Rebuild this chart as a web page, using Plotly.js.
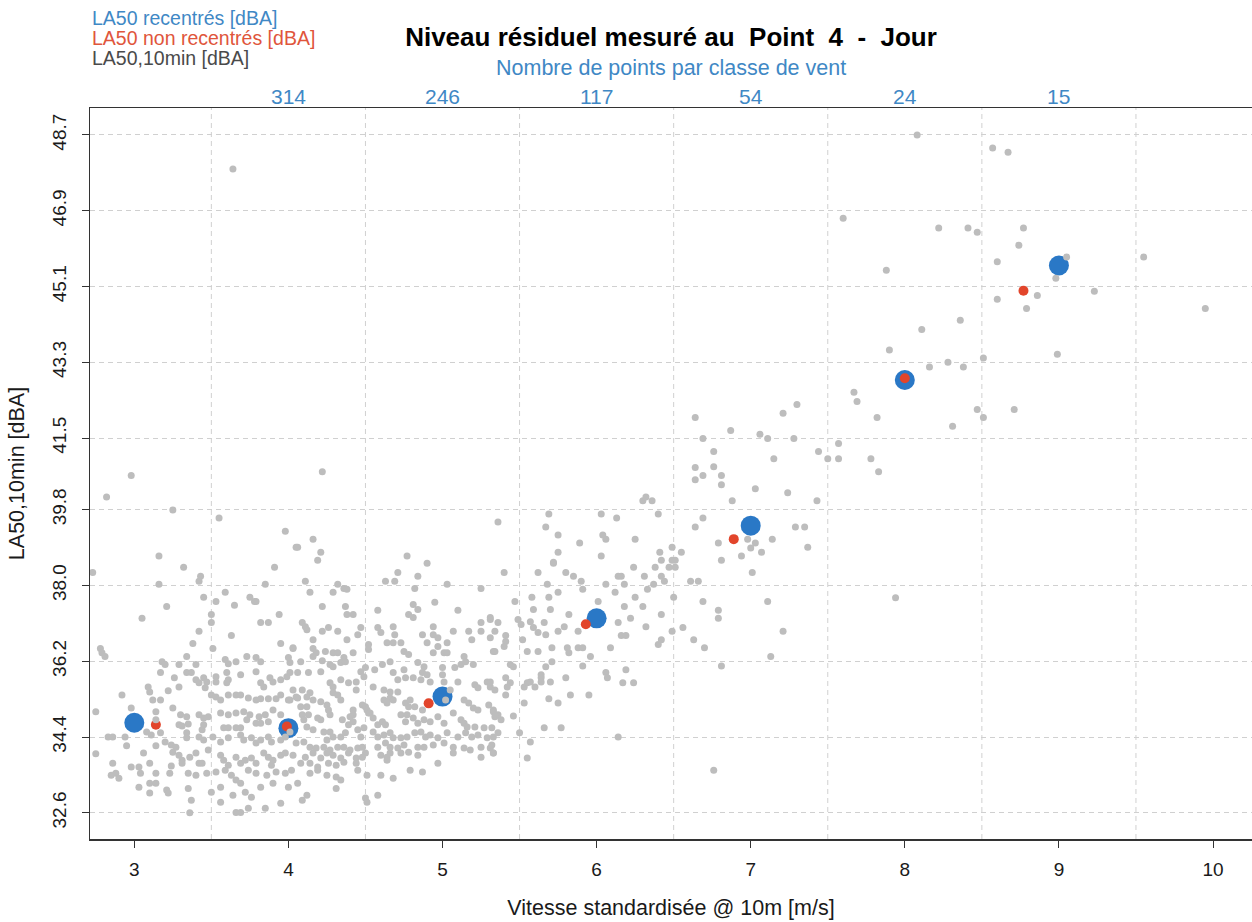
<!DOCTYPE html>
<html>
<head>
<meta charset="utf-8">
<script src="https://cdn.plot.ly/plotly-3.0.1.min.js"></script>
<style>
  html, body { margin: 0; padding: 0; background: #ffffff; }
  #chart { width: 1252px; height: 922px; }
</style>
</head>
<body>
<div id="chart"></div>
<script>
// Wind classes (m/s) and the class levels
const windClasses = [3, 4, 5, 6, 7, 8, 9];
const la50Recentred = [34.74, 34.61, 35.36, 37.22, 39.42, 42.88, 45.60];

// Non re-centred class levels: mean wind speed of the class and level
const windNonRecentred = [3.14, 3.99, 4.91, 5.93, 6.89, 8.00, 8.77];
const la50NonRecentred = [34.69, 34.65, 35.20, 37.08, 39.10, 42.92, 45.00];

// Number of 10-min samples per wind class (top labels)
const countPositions = [4, 5, 6, 7, 8, 9];
const countLabels = ['314', '246', '117', '54', '24', '15'];

// Axis ticks
const xTickValues = [3, 4, 5, 6, 7, 8, 9, 10];
const yTickValues = [32.6, 34.4, 36.2, 38.0, 39.8, 41.5, 43.3, 45.1, 46.9, 48.7];
const classBoundaries = [3.5, 4.5, 5.5, 6.5, 7.5, 8.5, 9.5];

// 10-min samples: standardised wind speed @10m (m/s)
const windSpeed10min = [
  3.21,3.05,3.50,3.50,3.65,3.78,3.82,3.87,3.94,3.42,
  3.63,3.38,3.51,3.95,4.03,2.78,2.79,2.81,3.18,3.20,
  3.29,3.34,3.40,3.59,3.61,3.66,3.73,3.79,3.82,4.00,
  3.17,3.26,3.34,3.37,3.40,3.42,3.45,3.47,3.53,3.53,
  3.60,3.61,3.60,3.69,3.79,3.82,3.84,3.88,3.90,3.95,
  3.99,4.01,3.09,3.10,3.22,3.29,3.46,2.92,3.12,3.17,
  3.50,3.53,3.56,3.61,3.66,3.69,3.74,3.79,3.82,3.87,
  3.92,3.95,4.00,4.05,2.75,2.98,3.14,3.25,3.30,3.34,
  3.42,3.45,3.48,3.56,3.61,3.66,3.71,3.75,3.81,3.85,
  3.90,3.95,3.14,3.29,3.31,3.35,3.45,3.44,3.58,3.61,
  3.66,3.69,3.73,3.79,3.82,3.87,2.83,2.86,2.94,3.08,
  3.11,3.17,3.20,3.24,3.27,3.34,3.34,3.42,3.45,3.51,
  3.56,3.61,3.69,3.71,3.76,3.79,3.82,3.87,3.89,3.95,
  3.98,2.95,3.14,2.75,3.06,3.25,3.29,3.31,3.36,3.40,
  3.48,3.56,3.58,3.61,3.66,3.69,3.72,3.76,3.79,3.84,
  3.87,3.90,3.89,3.95,3.98,2.86,2.98,3.03,3.10,3.24,
  3.31,3.42,3.44,2.88,2.85,2.90,3.04,3.14,3.23,3.35,
  3.40,3.47,3.53,3.59,3.63,3.66,3.69,3.74,3.79,3.86,
  3.92,3.98,4.02,3.03,3.10,3.14,3.10,3.21,3.22,3.35,
  3.50,3.56,3.64,3.72,3.76,3.82,3.90,4.00,3.37,3.36,
  3.56,3.66,3.69,3.74,3.85,3.95,
  4.22,4.37,4.38,4.42,4.58,4.81,4.84,4.78,4.81,4.95,
  5.10,4.09,4.12,4.11,4.22,4.26,4.32,4.47,4.45,4.58,
  4.60,4.68,4.69,4.87,4.94,4.94,4.97,5.07,5.17,5.25,
  5.25,5.31,5.34,4.16,4.38,4.03,4.16,4.24,4.29,4.32,
  4.52,4.52,4.64,4.68,4.73,4.90,4.97,5.03,5.19,4.18,
  4.16,4.36,4.42,4.75,4.78,4.94,5.01,5.03,5.14,5.33,
  4.01,4.08,4.22,4.27,4.29,4.34,4.37,4.50,4.56,4.61,
  4.66,4.75,4.84,4.88,4.87,5.00,5.08,5.12,5.15,5.20,
  4.06,4.13,4.21,4.27,4.29,4.34,4.39,4.44,4.47,4.49,
  4.68,4.71,4.76,4.81,4.86,4.90,4.92,5.00,5.01,5.05,
  5.10,5.21,5.23,5.29,5.31,5.34,4.03,4.09,4.14,4.29,
  4.32,4.44,4.55,4.62,4.66,4.71,4.01,4.06,4.12,4.16,
  4.21,4.25,4.26,4.27,4.34,4.42,4.42,4.48,4.50,4.51,
  4.52,4.62,4.64,4.66,4.68,4.76,4.78,4.79,4.82,4.87,
  5.02,5.14,5.17,5.20,5.23,5.30,5.33,5.36,4.08,4.12,
  4.13,4.09,4.10,4.19,4.21,4.35,4.40,4.39,4.42,4.53,
  4.55,4.58,4.61,4.63,4.73,4.77,4.76,4.81,4.84,4.88,
  4.92,4.97,5.01,5.07,5.12,5.14,5.16,5.21,5.27,5.32,
  4.01,4.12,4.16,4.23,4.27,4.29,4.25,4.34,4.37,4.45,
  4.49,4.47,4.55,4.58,4.62,4.66,4.68,4.73,4.77,4.82,
  4.86,4.89,4.92,4.97,5.03,5.10,5.15,5.19,5.23,5.29,
  5.33,4.05,4.10,4.14,4.18,4.23,4.27,4.32,4.36,4.40,
  4.45,4.48,4.50,4.58,4.63,4.66,4.71,4.75,4.84,4.88,
  4.94,5.01,5.07,5.14,5.18,5.25,5.31,4.03,4.11,4.16,
  4.21,4.25,4.29,4.34,4.39,4.44,4.48,4.60,4.64,4.66,
  4.73,4.78,4.84,4.97,5.07,5.25,5.33,4.08,4.14,4.19,
  4.26,4.31,4.36,4.44,4.45,4.64,4.79,4.87,4.06,4.14,
  4.19,4.25,4.31,4.34,4.51,4.60,4.68,4.31,4.12,4.09,
  4.50,4.51,4.58,
  5.40,5.62,5.72,5.80,5.85,5.90,5.91,6.14,6.16,6.24,
  6.31,6.33,6.37,6.38,6.42,6.44,6.47,6.51,6.49,6.61,
  6.66,5.68,5.75,6.06,6.18,6.12,5.47,5.58,5.69,6.01,
  6.18,6.25,6.30,6.50,5.31,5.36,5.49,5.51,5.59,5.70,
  5.57,5.59,5.62,5.67,5.66,5.75,5.79,5.82,6.14,6.22,
  6.32,6.42,5.88,6.16,6.19,6.49,6.56,6.63,5.31,5.41,
  5.41,5.40,5.34,5.52,5.55,5.62,5.71,5.81,5.82,5.88,
  5.91,5.96,6.09,6.40,6.42,5.71,5.67,5.91,5.44,5.46,
  5.31,5.41,5.44,5.42,5.53,5.55,5.57,5.60,5.64,5.64,
  5.64,5.70,5.80,6.06,6.07,6.17,6.24,6.19,5.41,5.53,
  5.69,5.75,5.83,5.95,5.33,5.34,5.38,5.46,5.36,5.50,
  5.57,5.66,5.77,6.14,5.32,5.33,5.55,
  2.98,2.82,3.25,3.55,3.98,4.05,3.16,2.73,3.32,3.43,
  3.42,3.16,3.91,3.85,3.45,3.53,3.59,3.75,3.79,
  4.22,4.16,4.06,4.21,4.19,4.11,4.14,4.32,4.29,4.36,4.38,
  4.63,4.69,4.71,4.77,4.84,4.82,4.90,5.03,5.25,5.36,
  6.64,6.69,6.64,6.64,6.69,5.69,5.67,5.75,5.75,5.72,
  6.03,6.13,6.04,6.06,6.03,5.89,6.30,6.32,6.36,6.40,
  6.25,6.41,6.42,6.49,6.55,6.51,6.64,6.69,
  6.87,6.76,6.76,6.81,6.81,7.06,7.11,7.21,7.30,7.28,
  7.15,7.44,7.50,7.57,7.57,7.67,7.69,7.82,7.78,7.83,
  6.88,7.03,7.24,7.43,6.79,6.81,6.94,7.00,7.03,6.98,
  7.07,7.14,7.01,7.29,7.35,7.37,6.69,6.79,6.79,7.11,
  7.21,6.70,7.13,6.81,6.76,
  8.08,7.60,8.22,8.41,7.88,8.11,8.36,7.90,8.16,8.28,8.38,
  8.57,8.67,8.47,8.77,8.74,8.60,9.05,8.98,9.55,8.60,
  8.79,8.86,9.23,9.95,8.51,8.99,8.47,8.51,8.71,
  3.64,8.31,7.94
];

// 10-min samples: LA50 (dBA)
const la50_10min = [
  37.50,37.22,37.31,37.12,37.53,37.62,37.12,37.12,37.31,36.91,
  36.81,36.62,36.50,36.62,36.50,36.50,36.40,36.31,36.19,36.12,
  36.12,36.31,36.12,36.24,36.14,36.19,36.31,36.29,36.19,36.29,
  35.93,35.81,35.93,35.93,35.76,35.69,35.81,35.71,35.83,35.71,
  35.93,35.76,35.69,35.88,35.95,35.69,35.59,35.81,35.71,35.76,
  35.83,35.93,35.59,35.47,35.50,35.59,35.57,35.40,35.28,35.28,
  35.40,35.35,35.28,35.40,35.40,35.40,35.33,35.28,35.31,35.31,
  35.31,35.40,35.28,35.35,35.00,35.09,35.00,35.09,34.93,34.88,
  34.93,34.85,34.88,34.97,34.93,34.97,35.00,34.93,34.88,34.93,
  35.04,34.93,34.81,34.69,34.66,34.71,34.69,34.57,34.62,34.62,
  34.62,34.62,34.81,34.73,34.73,34.76,34.40,34.40,34.40,34.52,
  34.45,34.50,34.28,34.21,34.16,34.50,34.38,34.40,34.33,34.40,
  34.28,34.38,34.45,34.33,34.38,34.26,34.33,34.40,34.28,34.33,
  34.40,34.19,34.19,34.00,34.02,34.04,33.97,33.85,33.92,34.02,
  34.09,33.97,33.85,33.73,33.92,33.78,33.85,33.90,33.78,34.02,
  33.92,33.85,33.73,33.97,34.02,33.78,33.69,33.69,33.78,33.71,
  33.78,33.78,33.78,33.54,33.49,33.42,33.54,33.54,33.54,33.54,
  33.49,33.54,33.57,33.61,33.49,33.38,33.30,33.61,33.54,33.49,
  33.57,33.54,33.61,33.21,33.30,33.30,33.07,33.14,33.07,33.18,
  33.09,33.21,33.02,33.09,32.97,33.21,33.30,33.21,32.90,32.60,
  32.85,32.61,32.61,32.71,32.71,32.83,
  37.50,37.50,37.31,37.31,37.41,37.55,37.43,37.31,37.24,37.60,
  37.41,37.12,36.95,37.02,36.91,37.00,36.91,37.00,36.83,37.00,
  36.88,37.02,36.83,36.83,37.02,36.83,36.76,36.91,36.91,36.91,
  37.12,37.19,36.91,36.71,36.71,36.52,36.50,36.43,36.40,36.40,
  36.60,36.48,36.64,36.64,36.64,36.64,36.55,36.64,36.71,36.40,
  36.31,36.29,36.40,36.43,36.36,36.40,36.40,36.40,36.31,36.43,
  36.17,36.19,36.21,36.12,36.07,36.17,36.19,36.05,36.00,36.12,
  36.19,36.00,36.17,36.07,35.93,36.05,36.05,36.12,36.19,36.12,
  35.93,35.93,35.95,35.69,35.59,35.76,35.69,35.71,35.95,35.83,
  35.93,35.76,35.81,35.81,35.76,35.88,35.71,35.88,35.71,35.52,
  35.71,35.64,35.57,35.71,35.59,35.52,35.52,35.52,35.45,35.45,
  35.40,35.52,35.59,35.52,35.47,35.47,35.28,35.33,35.35,35.28,
  35.24,35.16,35.04,34.93,35.28,35.04,34.93,35.16,35.12,35.04,
  34.97,35.28,35.21,35.33,35.28,35.21,35.12,35.28,35.12,35.04,
  35.28,35.28,35.21,35.09,35.04,35.16,35.04,34.93,35.12,35.12,
  34.93,34.93,34.81,34.85,34.81,34.81,34.88,34.69,34.76,34.97,
  34.85,34.69,34.76,34.69,34.93,34.93,34.76,34.85,34.73,34.81,
  34.76,34.88,34.73,34.97,34.81,34.73,34.64,34.64,34.62,34.62,
  34.52,34.64,34.57,34.52,34.52,34.40,34.33,34.40,34.50,34.57,
  34.62,34.40,34.52,34.40,34.45,34.50,34.38,34.38,34.40,34.50,
  34.52,34.40,34.45,34.38,34.50,34.40,34.50,34.40,34.45,34.38,
  34.40,34.26,34.28,34.16,34.14,34.16,34.09,34.16,34.16,34.09,
  34.14,34.16,34.02,34.16,34.26,34.16,34.14,34.21,34.16,34.16,
  34.21,34.26,34.16,34.14,34.09,34.16,34.14,33.97,33.92,34.02,
  33.90,34.02,33.97,33.90,34.02,33.90,33.92,33.97,33.92,34.02,
  34.02,34.04,33.97,33.78,34.02,33.92,34.02,33.78,33.78,33.69,
  33.78,33.73,33.80,33.78,33.61,33.85,33.61,33.57,33.30,33.54,
  33.61,33.49,33.45,33.38,33.49,33.49,33.42,33.18,33.02,32.90,
  32.95,32.85,33.02,
  38.31,38.31,38.53,38.31,38.22,38.10,37.91,38.22,38.22,38.43,
  38.22,37.91,38.03,38.43,38.22,38.10,38.43,38.43,38.60,38.10,
  38.10,38.03,37.84,38.03,38.03,37.84,37.62,37.72,37.72,37.62,
  37.50,37.72,37.50,37.72,37.24,37.12,37.19,37.07,37.43,37.43,
  37.14,37.00,36.88,36.83,37.12,36.91,37.02,37.31,37.12,37.22,
  37.02,37.31,36.91,36.81,36.81,36.91,37.00,36.71,36.76,36.81,
  36.67,36.55,36.43,36.71,36.43,36.43,36.52,36.52,36.40,36.52,
  36.52,36.31,36.52,36.60,36.71,36.19,36.07,36.09,36.12,36.07,
  35.71,35.81,35.69,35.59,35.59,35.69,35.71,35.59,35.88,35.81,
  35.71,35.71,35.81,35.93,35.81,35.69,35.69,36.00,35.40,35.21,
  35.31,35.21,35.40,35.40,35.00,34.88,34.81,34.90,34.50,34.50,
  34.28,34.62,34.62,34.40,34.21,34.02,33.90,
  40.61,40.10,39.79,39.60,39.29,38.91,38.70,38.31,38.43,38.22,
  38.10,38.03,38.43,38.03,37.72,37.62,37.84,37.72,37.62,
  40.70,39.10,38.91,38.79,38.60,38.10,37.84,38.03,37.84,37.93,37.91,
  38.10,38.10,38.31,38.70,38.22,37.93,38.53,38.03,37.93,39.51,
  41.99,41.49,40.80,40.51,40.61,39.70,39.39,39.20,38.79,38.55,
  39.70,39.60,39.20,39.10,38.70,39.01,40.01,40.10,40.01,39.70,
  39.10,38.79,38.60,38.91,38.79,38.60,39.39,39.60,
  41.68,41.18,40.82,40.61,40.39,41.59,41.49,42.09,42.30,41.49,
  41.01,41.18,41.01,41.37,41.01,42.59,42.37,41.99,41.01,40.70,
  40.01,40.30,40.20,40.01,39.01,38.60,38.70,38.89,39.01,39.10,
  38.79,39.10,38.31,39.39,39.39,38.91,37.62,37.41,37.22,37.62,
  36.91,36.52,36.31,36.09,33.61,
  48.70,46.72,46.49,46.49,45.49,44.08,44.30,43.59,43.19,43.30,43.19,
  48.39,48.29,46.39,46.49,46.08,45.69,45.80,45.30,45.80,44.80,
  44.58,44.89,44.99,44.58,43.40,43.49,42.18,41.99,42.18,
  47.89,41.78,37.71
];

const FONT = 'Liberation Sans, Arial, Helvetica, sans-serif';
const BLUE_TEXT = '#3f88c5';
const RED_TEXT = '#e0553b';

const traces = [
  {
    type: 'scatter', mode: 'markers', name: 'LA50 recentrés [dBA]',
    x: windClasses, y: la50Recentred,
    marker: { size: 20, color: '#2a78c6', line: { width: 0 } },
    hoverinfo: 'x+y'
  },
  {
    type: 'scatter', mode: 'markers', name: 'LA50 non recentrés [dBA]',
    x: windNonRecentred, y: la50NonRecentred,
    marker: { size: 10, color: '#e2452b', line: { width: 0 } },
    hoverinfo: 'x+y'
  },
  {
    type: 'scatter', mode: 'markers', name: 'LA50,10min [dBA]',
    x: windSpeed10min, y: la50_10min,
    marker: { size: 7, color: '#bdbdbd', line: { width: 0 } },
    hoverinfo: 'x+y'
  }
];

// Plot area: 108 px top margin, 731 px tall
const plotH = 922 - 108 - 83;
const aboveTop = (px) => 1 + (108 - px) / plotH;

const annotations = [
  { text: 'LA50 recentrés [dBA]', color: BLUE_TEXT, y: 18 },
  { text: 'LA50 non recentrés [dBA]', color: RED_TEXT, y: 38 },
  { text: 'LA50,10min [dBA]', color: '#4a4a4a', y: 58 }
].map(l => ({
  text: l.text, xref: 'paper', yref: 'paper', x: 0, y: aboveTop(l.y),
  xanchor: 'left', yanchor: 'middle', showarrow: false,
  font: { family: FONT, size: 19.5, color: l.color }
}));

annotations.push({
  text: 'Nombre de points par classe de vent', xref: 'paper', yref: 'paper',
  x: 0.5, y: aboveTop(68), xanchor: 'center', yanchor: 'middle', showarrow: false,
  font: { family: FONT, size: 21.5, color: BLUE_TEXT }
});

countPositions.forEach((c, i) => {
  annotations.push({
    text: countLabels[i], xref: 'x', yref: 'paper', x: c, y: aboveTop(97),
    xanchor: 'center', yanchor: 'middle', showarrow: false,
    font: { family: FONT, size: 21, color: BLUE_TEXT }
  });
});

const shapes = classBoundaries.map(b => ({
  type: 'line', xref: 'x', yref: 'paper', x0: b, x1: b, y0: 0, y1: 1,
  layer: 'below', line: { color: '#d0d0d0', width: 1, dash: '5px,4px' }
}));

const layout = {
  width: 1252, height: 922,
  margin: { l: 90, r: 0, t: 108, b: 83, pad: 0 },
  paper_bgcolor: '#ffffff', plot_bgcolor: '#ffffff',
  showlegend: false,
  font: { family: FONT, size: 19, color: '#1a1a1a' },
  title: {
    text: '<b>Niveau résiduel mesuré au\u00a0 Point\u00a0 4\u00a0 -\u00a0 Jour</b>',
    font: { family: FONT, size: 26, color: '#000000' },
    xref: 'paper', x: 0.5, xanchor: 'center',
    yref: 'container', y: 1 - 37 / 922, yanchor: 'middle'
  },
  xaxis: {
    range: [2.7125, 10.253], tickmode: 'array', tickvals: xTickValues,
    ticks: 'outside', ticklen: 7, tickwidth: 1, tickcolor: '#333333',
    showline: true, mirror: true, linecolor: '#333333', linewidth: 1.5,
    showgrid: false, zeroline: false, ticklabelstandoff: 6,
    tickfont: { family: FONT, size: 19, color: '#1a1a1a' },
    title: { text: 'Vitesse standardisée @ 10m [m/s]', standoff: 20,
             font: { family: FONT, size: 21.5, color: '#1a1a1a' } }
  },
  yaxis: {
    range: [31.978, 49.341], tickmode: 'array', tickvals: yTickValues,
    ticktext: yTickValues.map(v => v.toFixed(1)), tickangle: -90,
    ticks: 'outside', ticklen: 7, tickwidth: 1, tickcolor: '#333333',
    showline: true, linecolor: '#333333', linewidth: 1.5,
    showgrid: true, gridcolor: '#d0d0d0', gridwidth: 1, griddash: '5px,4px',
    zeroline: false, ticklabelstandoff: 8,
    tickfont: { family: FONT, size: 19, color: '#1a1a1a' },
    title: { text: 'LA50,10min [dBA]', standoff: 18,
             font: { family: FONT, size: 21.5, color: '#1a1a1a' } }
  },
  shapes: shapes,
  annotations: annotations
};

Plotly.newPlot('chart', traces, layout, { staticPlot: true, displayModeBar: false });
</script>
</body>
</html>
